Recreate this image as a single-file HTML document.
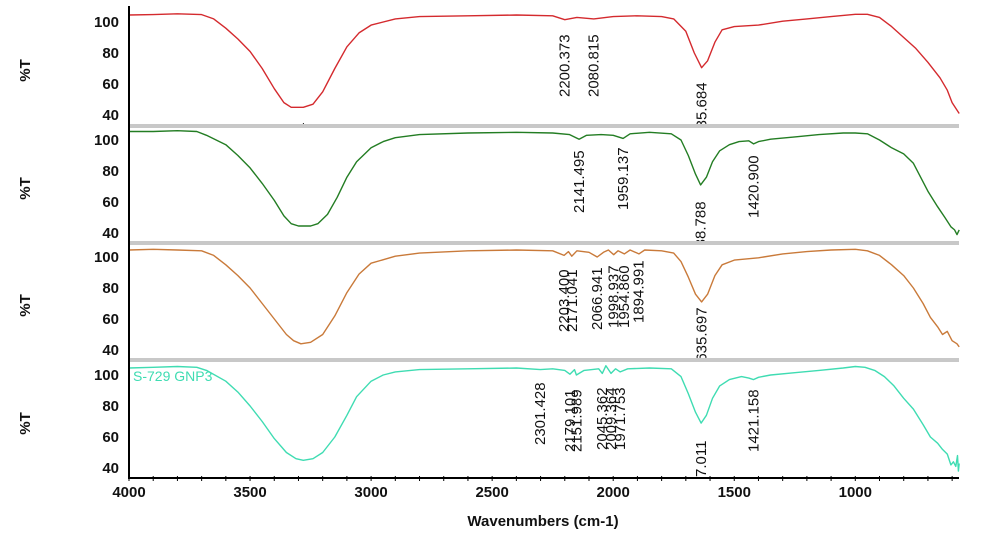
<!DOCTYPE html>
<html><head><meta charset="utf-8"><style>
html,body{margin:0;padding:0;background:#fff;}
svg{display:block;font-family:"Liberation Sans",Arial,sans-serif;}
.tk{font-weight:bold;font-size:15px;fill:#111;}
.an{font-size:15px;fill:#111;}
</style></head><body>
<svg id="chart" width="1003" height="545" viewBox="0 0 1003 545">
<defs>
<clipPath id="c0"><rect x="129" y="6" width="831" height="118"/></clipPath>
<clipPath id="c1"><rect x="129" y="128" width="831" height="113"/></clipPath>
<clipPath id="c2"><rect x="129" y="245" width="831" height="113"/></clipPath>
<clipPath id="c3"><rect x="129" y="363" width="831" height="115"/></clipPath>
</defs>
<g id="root"></g>
</svg>
<script>
const xTicks=[4000,3500,3000,2500,2000,1500,1000];
const yTicks=[100,80,60,40];
const colors=["#d42a2e","#237d23","#c97a3a","#3fdcb2"];
const redW=[4000,3900,3800,3700,3650,3600,3550,3500,3450,3400,3360,3330,3280,3240,3200,3150,3100,3050,3000,2900,2800,2600,2400,2250,2200,2150,2080,2000,1900,1800,1750,1700,1665,1635,1610,1580,1550,1500,1400,1300,1200,1100,1000,950,900,850,800,750,700,650,620,600,571];
const redT=[104.5,104.8,105.3,104.8,102,96,89,81,70,57,48,45,45,47,55,70,84,93,98,102,103.5,104,104.5,104,101.5,103,102,103.5,104,103.5,102,94,80,70.5,75,87,95,97,98,100.5,102,103.5,105,105,103,97,90,83,74,64,56,48,41];
const greenW=[4000,3900,3800,3720,3680,3600,3550,3500,3450,3400,3360,3330,3300,3250,3220,3180,3140,3100,3060,3000,2950,2900,2800,2600,2400,2250,2180,2141,2110,2050,2000,1959,1930,1850,1760,1720,1690,1660,1639,1615,1590,1560,1520,1480,1440,1420,1400,1350,1250,1150,1050,1000,950,900,850,800,760,700,660,630,605,590,580,571];
const greenT=[105.5,105.5,106,105.5,103,97,90,82,72,61,51,46,44.5,44.5,46,52,63,76,86,95,99,101.5,103.5,104.5,105,104.5,103.5,100.5,103,103.5,103,101,104,105,104,100,90,78,71,76,86,93,97,99,99.5,97.5,99,100.5,102,103.5,104.5,104.5,104,100,95,91,85,67,57,50,44,42,39,42];
const orangeW=[4000,3900,3800,3700,3650,3600,3550,3500,3450,3400,3350,3320,3290,3250,3200,3150,3100,3050,3000,2900,2800,2600,2400,2250,2203,2185,2171,2150,2100,2066,2040,2020,1998,1980,1954,1930,1894,1870,1800,1750,1720,1690,1660,1635,1610,1580,1550,1500,1400,1300,1200,1100,1000,950,900,850,800,760,720,690,660,640,620,600,580,571];
const orangeT=[104.5,105,104.5,104,101,95,88,80,70,60,50,46,44,45,50,62,77,89,96,100.5,102.5,104,104.5,104,101,103.5,100.5,104,103,100,103,104.5,101.5,104,102,104.5,102,104.5,104,102.5,97,87,76,71,76,88,95,98,99.5,102,103.5,104.5,105,104,101,95,88,80,70,61,55,50,52,46,44,42];
const tealW=[4000,3900,3800,3720,3680,3600,3550,3500,3450,3400,3350,3310,3280,3240,3200,3150,3100,3060,3000,2950,2900,2800,2600,2400,2301,2250,2200,2179,2160,2152,2120,2060,2045,2030,2009,1990,1971,1940,1850,1760,1720,1690,1660,1637,1615,1590,1560,1520,1470,1440,1421,1400,1350,1250,1150,1050,1000,960,920,880,840,800,760,720,690,660,640,620,605,595,585,578,574,571];
const tealT=[104.5,105,105.5,105,103,96,89,80,70,59,50,46,45,46,50,60,74,86,96,100,102,103.5,104,104.5,103.5,104,103,100.5,103.5,100,103,104,101,106,101,104,102,104,104.5,104,99,88,76,69,74,85,93,97,99,98,97,98.5,100,101.5,103,104.5,105.5,105,103,99,93,85,78,68,60,56,52,49,42,44,41,48,38,43];
const lab0=["2200.373","2080.815","1635.684","3298.041"];
const labW0=[2200.373,2080.815,1635.684,3298.041];
const lab1=["2141.495","1959.137","1638.788","1420.900","3295.665"];
const labW1=[2141.495,1959.137,1638.788,1420.900,3295.665];
const lab2=["2203.400","2171.041","2066.941","1998.937","1954.860","1894.991","1635.697","3305.470"];
const labW2=[2203.400,2171.041,2066.941,1998.937,1954.860,1894.991,1635.697,3305.470];
const lab3=["2301.428","2179.101","2151.989","2045.362","2009.364","1971.753","1637.011","1421.158","3298.695"];
const labW3=[2301.428,2179.101,2151.989,2045.362,2009.364,1971.753,1637.011,1421.158,3298.695];
const seriesW=[redW,greenW,orangeW,tealW];
const seriesT=[redT,greenT,orangeT,tealT];
const labs=[lab0,lab1,lab2,lab3];
const labWs=[labW0,labW1,labW2,labW3];
// layout (not data)
const labBottom=[[97,97,145,185],[213,210,264,218,303],[332,332,330,328,328,323,370,420],[445,452,452,450,450,450,502,452,540]];
const y100=[22,140,257,375];
const panelTop=[6,128,245,363];
const sepY=[124,241,358];
const NS="http://www.w3.org/2000/svg";
const root=document.getElementById('root');
function xs(w){return 129+(4000-w)*0.2421;}
function ys(k,t){return y100[k]+(100-t)*1.55;}
function mk(tag,attrs,parent){const e=document.createElementNS(NS,tag);for(const a in attrs)e.setAttribute(a,attrs[a]);(parent||root).appendChild(e);return e;}
// separators
sepY.forEach((y,i)=>{
 const r=mk('rect',{x:129,y:y,width:830,height:4,fill:'#c8c8c8'});
 
 
});
for(let k=0;k<4;k++){
 const g=mk('g',{'clip-path':'url(#c'+k+')'});
 
 
 const W=seriesW[k],T=seriesT[k];
 let d='';
 for(let i=0;i<W.length;i++){d+=(i?'L':'M')+xs(W[i]).toFixed(1)+','+ys(k,T[i]).toFixed(1);}
 const p=mk('path',{d:d,fill:'none',stroke:colors[k],'stroke-width':1.4,'stroke-linejoin':'round'},g);
 
 
 labs[k].forEach((s,i)=>{
  const x=xs(labWs[k][i])+5, y=labBottom[k][i];
  const t=mk('text',{class:'an',transform:'translate('+x.toFixed(1)+','+y+') rotate(-90)'},g);
  t.textContent=s;
  
  
 });
 yTicks.forEach(v=>{
  const t=mk('text',{class:'tk',x:119,y:ys(k,v)+5,'text-anchor':'end'});
  t.textContent=v;
  
  
 });
 const yl=mk('text',{class:'tk',transform:'translate(30,'+(ys(k,70)+2)+') rotate(-90)','text-anchor':'middle','font-size':'14'});
 yl.textContent='%T';
 
 
}
const nm=mk('text',{x:133,y:381,'font-size':'14',fill:colors[3]});
nm.textContent='S-729 GNP3';


// axes
const ya=mk('line',{x1:129,y1:6,x2:129,y2:479,stroke:'#000','stroke-width':2});


const xa=mk('line',{x1:128,y1:478,x2:959,y2:478,stroke:'#000','stroke-width':2});


for(let w=4000;w>=600;w-=100){
 const l=mk('line',{x1:xs(w),y1:476,x2:xs(w),y2:481,stroke:'#000','stroke-width':1});
 
 
}
xTicks.forEach(v=>{
 const t=mk('text',{class:'tk',x:xs(v),y:497,'text-anchor':'middle'});
 t.textContent=v;
 
 
});
const xt=mk('text',{class:'tk',x:543,y:526,'text-anchor':'middle','font-size':'13'});
xt.textContent='Wavenumbers (cm-1)';


</script>
</body></html>
